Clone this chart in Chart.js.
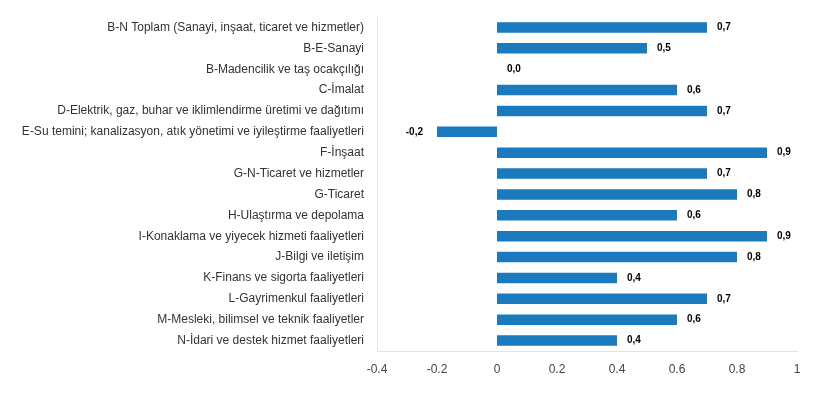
<!DOCTYPE html>
<html>
<head>
<meta charset="utf-8">
<script src="https://cdn.jsdelivr.net/npm/chart.js@4"></script>
<style>
html,body{margin:0;padding:0;background:#fff;}
#wrap{width:818px;height:396px;position:relative;}
</style>
</head>
<body>
<div id="wrap"><canvas id="c" width="818" height="396"></canvas></div>
<script>
const categories = [
  "B-N Toplam (Sanayi, inşaat, ticaret ve hizmetler)",
  "B-E-Sanayi",
  "B-Madencilik ve taş ocakçılığı",
  "C-İmalat",
  "D-Elektrik, gaz, buhar ve iklimlendirme üretimi ve dağıtımı",
  "E-Su temini; kanalizasyon, atık yönetimi ve iyileştirme faaliyetleri",
  "F-İnşaat",
  "G-N-Ticaret ve hizmetler",
  "G-Ticaret",
  "H-Ulaştırma ve depolama",
  "I-Konaklama ve yiyecek hizmeti faaliyetleri",
  "J-Bilgi ve iletişim",
  "K-Finans ve sigorta faaliyetleri",
  "L-Gayrimenkul faaliyetleri",
  "M-Mesleki, bilimsel ve teknik faaliyetler",
  "N-İdari ve destek hizmet faaliyetleri"
];
const values = [0.7, 0.5, 0.0, 0.6, 0.7, -0.2, 0.9, 0.7, 0.8, 0.6, 0.9, 0.8, 0.4, 0.7, 0.6, 0.4];
const xTicks = [-0.4, -0.2, 0, 0.2, 0.4, 0.6, 0.8, 1];

const FONT = "'Liberation Sans', Arial, sans-serif";

const valueLabels = {
  id: 'valueLabels',
  afterDatasetsDraw(chart) {
    const ctx = chart.ctx;
    const meta = chart.getDatasetMeta(0);
    const xs = chart.scales.x;
    const zero = xs.getPixelForValue(0);
    ctx.save();
    ctx.font = "bold 10px " + FONT;
    ctx.fillStyle = '#000';
    ctx.textBaseline = 'middle';
    meta.data.forEach((bar, i) => {
      const v = values[i];
      const txt = v.toFixed(1).replace('.', ',');
      if (v < 0) {
        ctx.textAlign = 'right';
        ctx.fillText(txt, bar.x - 14, bar.y);
      } else {
        ctx.textAlign = 'left';
        ctx.fillText(txt, Math.max(bar.x, zero) + 10, bar.y);
      }
    });
    ctx.restore();
  }
};

new Chart(document.getElementById('c'), {
  type: 'bar',
  data: {
    labels: categories,
    datasets: [{
      data: values,
      backgroundColor: '#1a7abd',
      borderWidth: 0,
      barPercentage: 0.5,
      categoryPercentage: 1.0
    }]
  },
  options: {
    indexAxis: 'y',
    responsive: false,
    animation: false,
    layout: { padding: { top: 17, right: 21, bottom: 0, left: 0 } },
    plugins: { legend: { display: false }, tooltip: { enabled: false } },
    scales: {
      x: {
        min: -0.4, max: 1,
        afterBuildTicks(s) { s.ticks = xTicks.map(v => ({ value: v })); },
        afterFit(s) { s.height = 45; },
        grid: { display: false, drawTicks: false },
        border: { display: true, color: '#e3e3e3', width: 1 },
        ticks: {
          padding: 11,
          color: '#444',
          font: { family: FONT, size: 12 },
          callback: (v) => String(Math.round(v * 10) / 10)
        }
      },
      y: {
        afterFit(s) { s.width = 377; s.paddingTop = 0; s.paddingBottom = 0; },
        grid: { display: false, drawTicks: false },
        border: { display: true, color: '#e3e3e3', width: 1 },
        ticks: {
          padding: 13,
          autoSkip: false,
          color: '#333',
          font: { family: FONT, size: 12 }
        }
      }
    }
  },
  plugins: [valueLabels]
});
</script>
</body>
</html>
